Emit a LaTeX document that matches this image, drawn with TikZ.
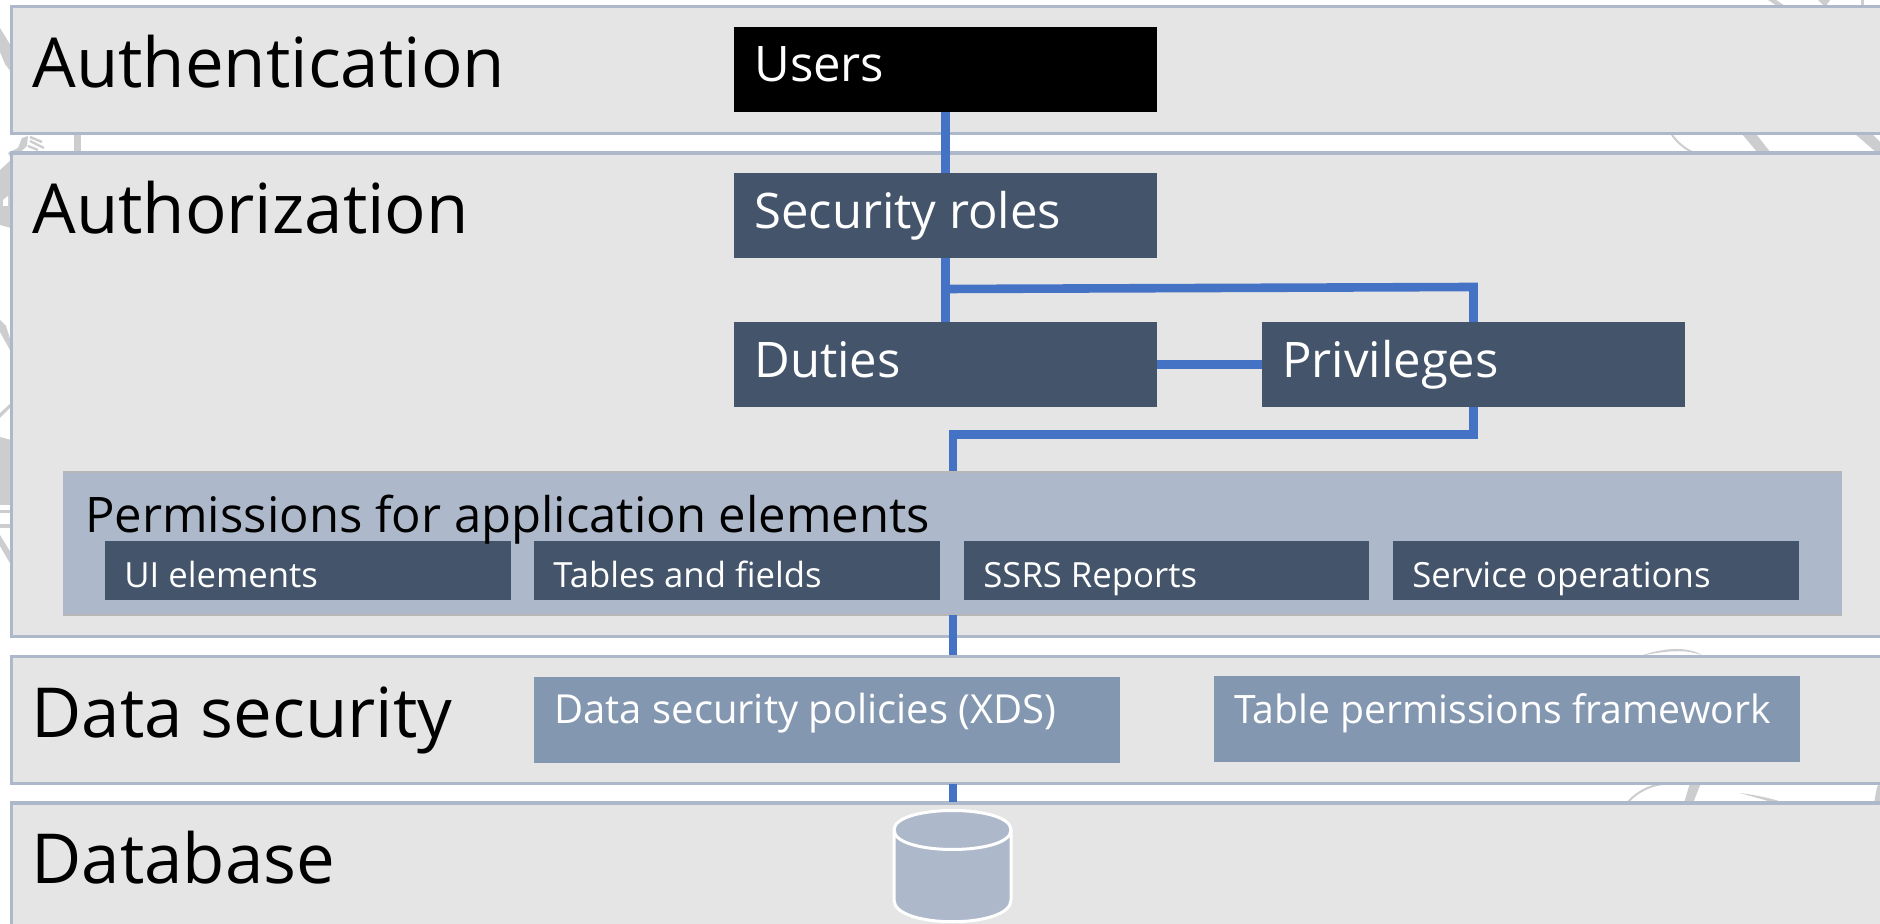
\documentclass[tikz,border=0pt]{standalone}
\usepackage{fontspec}
\setmainfont{Open Sans}
\definecolor{bandfill}{HTML}{E5E5E5}
\definecolor{bandline}{HTML}{ADB9CA}
\definecolor{darkbox}{HTML}{44546A}
\definecolor{midbox}{HTML}{8497B0}
\definecolor{permfill}{HTML}{ADB9CA}
\definecolor{wire}{HTML}{4472C4}
\definecolor{treegray}{HTML}{CBCDCE}
\tikzset{
  x=0.5pt,y=-0.5pt,
  band/.style={fill=bandfill,draw=bandline,line width=1.6pt},
  conn/.style={draw=wire,line width=4.3pt,line join=miter},
  title/.style={anchor=base west,font=\fontsize{34.5}{35}\selectfont,text=black,inner sep=0pt},
  boxlabel/.style={anchor=base west,font=\fontsize{24.5}{24}\selectfont,text=white,inner sep=0pt},
  permlabel/.style={anchor=base west,font=\fontsize{24.5}{24}\selectfont,text=black,inner sep=0pt},
  sublabel/.style={anchor=base west,font=\fontsize{17.35}{18}\selectfont,text=white,inner sep=0pt},
  midlabel/.style={anchor=base west,font=\fontsize{20}{20}\selectfont,text=white,inner sep=0pt},
  filled/.style={inner sep=0pt,outer sep=0pt,draw=none},
  tree/.style={fill=treegray,draw=none},
  twig/.style={draw=treegray,line width=1pt},
  feather/.style={draw=treegray,line width=1.2pt},
}
\newcommand{\boxat}[6]{\node[filled,fill=#6,minimum width=(#4-#2)*0.5pt,minimum height=(#5-#3)*0.5pt,anchor=north west] (#1) at (#2,#3) {};}
\begin{document}
\begin{tikzpicture}
\useasboundingbox (0,0) rectangle (1880,924);
\fill[white] (0,0) rectangle (1880,924);
% background picture showing through the margins and the gaps
\fill[tree] (0,28) -- (11,46) -- (11,72) -- (5,64) -- (0,52) -- cycle;
\fill[tree] (8,153) -- (18,148) -- (22,138) -- (28,136) -- (27,146) -- (12,160) -- cycle;
\draw[feather] (30,137) -- (42,142);
\draw[feather] (30,141) -- (44,148);
\draw[feather] (28,146) -- (38,150);
\fill[tree] (74,134) rectangle (81,153);
\fill[tree] (0,170) -- (11,160) -- (11,228) -- (0,225) -- cycle;
\fill[white] (3,200) -- (8,196) -- (8,206) -- (3,206) -- cycle;
\fill[tree] (0,320) -- (6,326) -- (12,345) -- (10,350) -- (0,332) -- cycle;
\fill[tree] (0,413) -- (12,402) -- (12,406) -- (0,418) -- cycle;
\fill[tree] (0,437) -- (11,440) -- (11,505) -- (0,505) -- cycle;
\fill[tree] (0,510) rectangle (11,513);
\fill[tree] (0,524) rectangle (11,528);
\fill[tree] (0,535) -- (11,553) -- (11,565) -- (0,546) -- cycle;
\fill[tree] (1768,0) -- (1776,0) -- (1785,6) -- (1777,6) -- cycle;
\fill[tree] (1818,0) -- (1830,0) -- (1826,6) -- (1824,6) -- cycle;
\fill[tree] (1861,0) rectangle (1864,6);
\draw[twig] (1672,135) .. controls (1678,143) and (1684,148) .. (1692,152);
\fill[tree] (1742,134) -- (1756,134) -- (1771,153) -- (1758,153) -- cycle;
\fill[tree] (1855,134) -- (1872,134) -- (1880,142) -- (1880,153) -- (1877,153) -- cycle;
\fill[tree] (1640,656) .. controls (1660,649) and (1685,645) .. (1702,655) -- (1690,652) .. controls (1675,650) and (1660,652) .. (1640,656) -- cycle;
\draw[twig] (1628,802) .. controls (1636,793) and (1648,786) .. (1662,784);
\fill[tree] (1690,783) -- (1701,783) -- (1693,803) -- (1684,803) -- cycle;
\fill[tree] (1740,793) .. controls (1755,795) and (1770,798) .. (1782,802) -- (1768,801) .. controls (1758,798) and (1750,796) .. (1740,793) -- cycle;
\fill[tree] (1877,787) -- (1880,783) -- (1880,803) -- (1874,803) -- cycle;
% bands
\draw[band] (11.5,6.5) rectangle (1890,133.3);
\draw[band] (11.5,153) rectangle (1890,636.5);
\draw[band] (11.5,656.5) rectangle (1890,783.5);
\draw[band] (11.5,803) rectangle (1890,940);
% boxes
\boxat{users}{734}{27}{1157}{112}{black}
\boxat{roles}{734}{173}{1157}{258}{darkbox}
\boxat{duties}{734}{322}{1157}{407}{darkbox}
\boxat{priv}{1262}{322}{1685}{407}{darkbox}
\boxat{perm}{63}{472}{1842}{615}{permfill}
\draw[bandfill!80!black,line width=1pt] (perm.north west) -- (perm.north east);
\draw[bandfill!80!black,line width=0.6pt] (perm.south west) -- (perm.south east);
\boxat{ui}{105}{541.5}{511}{600}{darkbox}
\boxat{tables}{534}{541.5}{940}{600}{darkbox}
\boxat{ssrs}{964}{541.5}{1369}{600}{darkbox}
\boxat{svc}{1393}{541.5}{1799}{600}{darkbox}
\boxat{xds}{534}{677.5}{1120}{762.5}{midbox}
\boxat{tpf}{1214}{676.5}{1800}{761.5}{midbox}
% connectors
\coordinate (usersdown) at (945.2,112);
\coordinate (rolesup) at (945.2,173);
\coordinate (rolesdown) at (945.2,258);
\coordinate (dutiesup) at (945.2,322);
\coordinate (branchl) at (945.2,289);
\coordinate (branchr) at (1473.5,287);
\coordinate (privup) at (1473.5,322);
\coordinate (privdown) at (1473.5,407);
\coordinate (privl) at (1473.5,434.5);
\coordinate (perml) at (953,434.5);
\coordinate (permup) at (953,471);
\coordinate (permdown) at (953,615);
\coordinate (xdsup) at (953,655);
\coordinate (dbtop1) at (953,784);
\coordinate (dbtop2) at (953,802);
\draw[conn] (usersdown) -- (rolesup);
\draw[conn] (rolesdown) -- (dutiesup);
\draw[conn] (branchl) -- (branchr) -- (privup);
\draw[conn] (duties.east |- 0,364.5) -- (priv.west |- 0,364.5);
\draw[conn] (privdown) -- (privl) -- (perml) -- (permup);
\draw[conn] (permdown) -- (xdsup);
\draw[conn] (dbtop1) -- (dbtop2);
% database
\draw[white,line width=1.5pt,fill=permfill] (894,830) .. controls (894,804) and (1011,804) .. (1011,830) -- (1011,900) .. controls (1011,929) and (894,929) .. (894,900) -- cycle;
\draw[white,line width=1.5pt] (894,830) .. controls (894,856) and (1011,856) .. (1011,830);
% texts
\node[title] (t1) at (32,87.3) {Authentication};
\node[title] (t2) at (32,234) {Authorization};
\node[title] (t3) at (31,737.5) {Data security};
\node[title] (t4) at (31,883) {Database};
\node[boxlabel] (l1) at (754,82) {Users};
\node[boxlabel] (l2) at (754,228.5) {Security roles};
\node[boxlabel] (l3) at (754,378) {Duties};
\node[boxlabel] (l4) at (1282,378) {Privileges};
\node[permlabel] (l5) at (85,533) {Permissions for application elements};
\node[sublabel] (l6) at (124,588) {UI elements};
\node[sublabel] (l7) at (553,588) {Tables and fields};
\node[sublabel] (l8) at (983,588) {SSRS Reports};
\node[sublabel] (l9) at (1412,588) {Service operations};
\node[midlabel] (l10) at (554,723.5) {Data security policies (XDS)};
\node[midlabel,font=\fontsize{19.55}{20}\selectfont] (l11) at (1234,723.5) {Table permissions framework};
\end{tikzpicture}
\end{document}
